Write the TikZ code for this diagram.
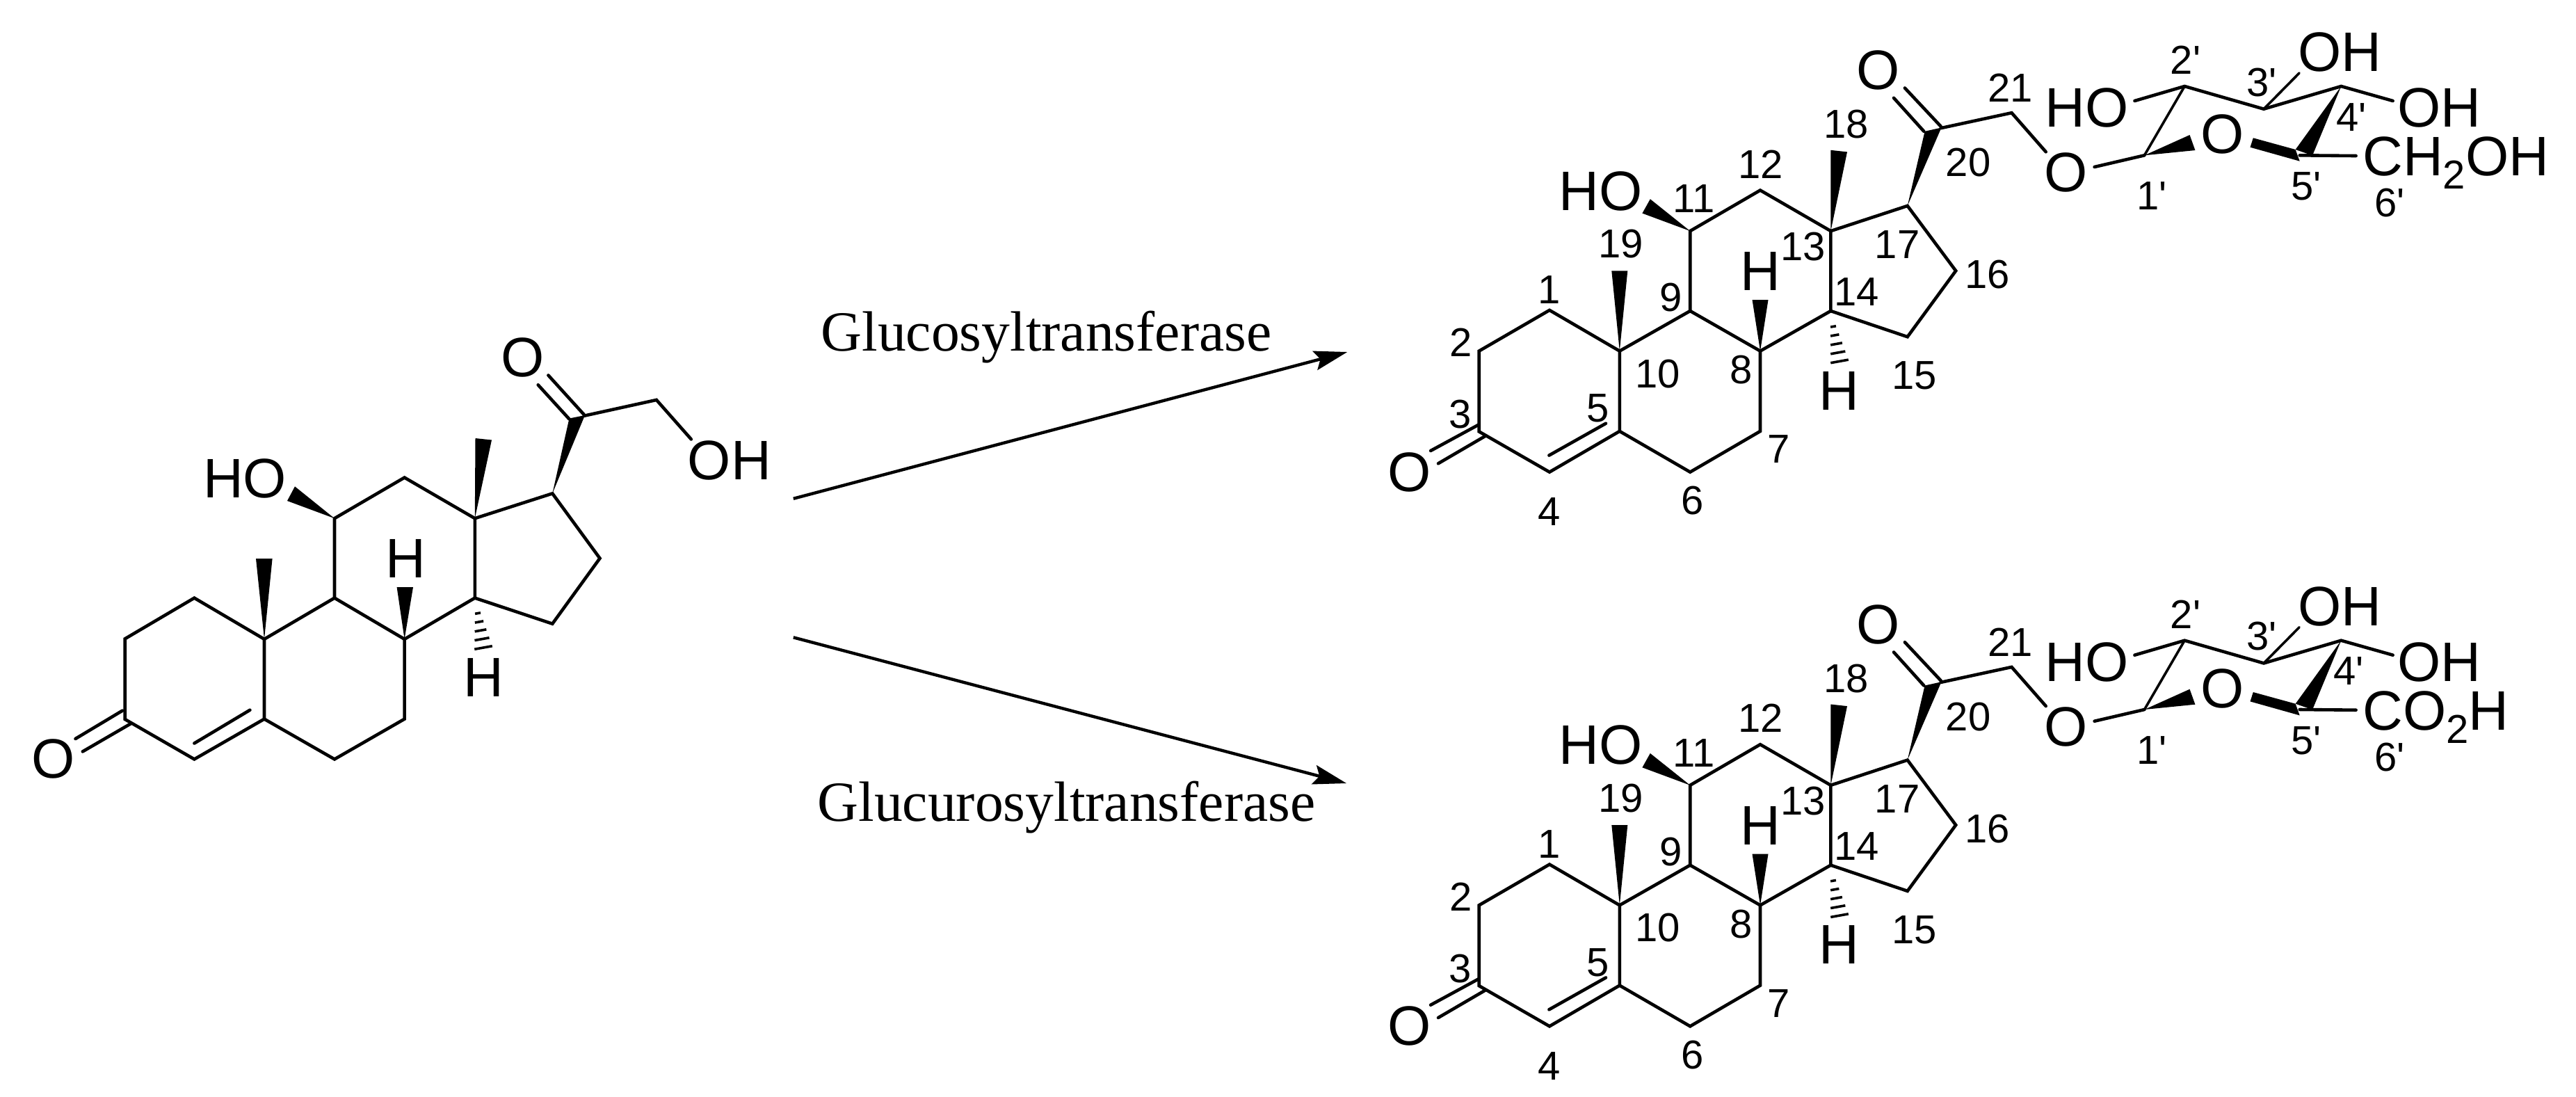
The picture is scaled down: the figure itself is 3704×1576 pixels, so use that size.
\documentclass[tikz,border=0pt]{standalone}
\usepackage{fontspec}
\usetikzlibrary{arrows.meta,calc}
\newfontfamily\chemfont{Liberation Sans}
\newfontfamily\enzfont{Liberation Serif}
\newcommand\atomsize{\fontsize{40}{42}\selectfont}
\newcommand\numsize{\fontsize{29}{31}\selectfont}
\newcommand\subtwo{\raisebox{-9.5pt}{\numsize 2}}
\tikzset{
  bond/.style={line width=2.3pt,line join=miter,line cap=round},
  thinbond/.style={line width=1.8pt,line cap=round},
  wedgebond/.style={fill=black,draw=none},
  hashline/.style={line width=1.8pt},
  atomlabel/.style={font=\chemfont\atomsize,inner sep=0pt,text=black},
  numlabel/.style={font=\chemfont\numsize,inner sep=0pt,text=black},
  enzyme/.style={font=\enzfont\fontsize{40.8}{42}\selectfont,inner sep=0pt,anchor=base west},
  reaction/.style={line width=2.2pt,-{Stealth[length=24pt,width=14pt,inset=4pt]}},
}
\newcommand\hashbond[2]{%
  \foreach \hf in {0,.25,.5,.75,1}{%
    \pgfmathsetmacro\hw{4+9*\hf}%
    \draw[hashline] ($(#1)!\hf!(#2)+(-\hw*.98,\hw*.176)$) -- ($(#1)!\hf!(#2)+(\hw*.98,-\hw*.176)$);
  }}
% glycoside product: #1 prefix, #2 shift in px, #3 substituent text, #4 x of label 4'
\newcommand\glycoside[4]{%
\begin{scope}[yshift=-#2*0.5pt]
\coordinate (#1c1) at (2228,445.9);
\coordinate (#1c2) at (2126.7,504.6);
\coordinate (#1c3) at (2126.7,620.4);
\coordinate (#1c4) at (2228,678.6);
\coordinate (#1c5) at (2328.8,619.9);
\coordinate (#1c6) at (2430.2,678.6);
\coordinate (#1c7) at (2531,619.9);
\coordinate (#1c8) at (2531,504.6);
\coordinate (#1c9) at (2430.2,447);
\coordinate (#1c10) at (2328.8,504.6);
\coordinate (#1c11) at (2430.2,332.1);
\coordinate (#1c12) at (2531,273.5);
\coordinate (#1c13) at (2632.4,332.1);
\coordinate (#1c14) at (2632.4,447);
\coordinate (#1c15) at (2742.7,484.2);
\coordinate (#1c16) at (2812.2,389.3);
\coordinate (#1c17) at (2742.7,295.9);
\coordinate (#1c20) at (2790.6,184.2);
\coordinate (#1c21) at (2892.5,162.2);
\coordinate (#1oe) at (2941.7,218.3);
\coordinate (#1oa) at (3011.6,240);
\coordinate (#1g1) at (3083.4,223.3);
\coordinate (#1g2) at (3141.2,124);
\coordinate (#1g3) at (3255,156.7);
\coordinate (#1g4) at (3366.3,124);
\coordinate (#1g5) at (3306.7,223.3);
\coordinate (#1ho2) at (3069.4,145);
\coordinate (#1ho3) at (3306.1,105);
\coordinate (#1ho4) at (3440.6,145);
\coordinate (#1g6) at (3387.6,224);
% bonds
\draw[bond] (#1c3) -- (#1c2) -- (#1c1) -- (#1c10) -- (#1c5) -- (#1c4) -- cycle;
\draw[bond] (#1c5) -- (#1c6) -- (#1c7) -- (#1c8) -- (#1c9) -- (#1c10);
\draw[bond] (#1c9) -- (#1c11) -- (#1c12) -- (#1c13) -- (#1c14) -- (#1c8);
\draw[bond] (#1c14) -- (#1c15) -- (#1c16) -- (#1c17) -- (#1c13);
\draw[bond] (#1c20) -- (#1c21) -- (#1oe);
\draw[bond] (#1oa) -- (#1g1);
\draw[thinbond] (#1g1) -- (#1g2);
\draw[bond] (#1ho2) -- (#1g2) -- (#1g3) -- (#1g4) -- (#1ho4);
\draw[thinbond] (#1g3) -- (#1ho3);
\draw[bond] (#1g5) -- (#1g6);
% double bonds
\coordinate (#1d1a) at (2126.7,610.2); \coordinate (#1d1b) at (2057.1,648);
\coordinate (#1d2a) at (2136.2,626.5); \coordinate (#1d2b) at (2068,666.3);
\coordinate (#1d3a) at (2309,608.7);   \coordinate (#1d3b) at (2227.4,654.6);
\coordinate (#1d4a) at (2790.6,181.6); \coordinate (#1d4b) at (2738.9,126.5);
\coordinate (#1d5a) at (2766.3,188.8); \coordinate (#1d5b) at (2723,140.8);
\draw[bond] (#1d1a) -- (#1d1b);
\draw[bond] (#1d2a) -- (#1d2b);
\draw[bond] (#1d3a) -- (#1d3b);
\draw[bond] (#1d4a) -- (#1d4b);
\draw[bond] (#1d5a) -- (#1d5b);
% wedges
\fill[wedgebond] (#1c11) -- (2372.8,286.2) -- (2361.4,306.6) -- cycle;
\fill[wedgebond] (#1c10) -- (2317.3,389.3) -- (2340.3,389.3) -- cycle;
\fill[wedgebond] (#1c8) -- (2519.5,431) -- (2542.5,431) -- cycle;
\fill[wedgebond] (#1c13) -- (2632.4,215.8) -- (2656,218.4) -- cycle;
\fill[wedgebond] (#1c17) -- (2767.6,188.8) -- (2791.5,183.5) -- cycle;
\fill[wedgebond] (#1g1) -- (3148.5,194) -- (3156.4,216) -- cycle;
\fill[wedgebond] (3239.8,198.3) -- (3300.6,215) -- (3306.7,231.7) -- (3235.5,211.7) -- cycle;
\fill[wedgebond] (#1g4) -- (3300.6,215) -- (3325,223.5) -- cycle;
\coordinate (#1h0) at (2636,469.4);
\coordinate (#1h1) at (2645,519.4);
\hashbond{#1h0}{#1h1}
% atoms
\node[atomlabel] (#1O3) at (2026.5,678.6) {O};
\node[atomlabel] (#1HO11) at (2301.4,274.5) {HO};
\node[atomlabel] (#1H8) at (2531.6,390.3) {H};
\node[atomlabel] (#1H14) at (2643.9,561.7) {H};
\node[atomlabel] (#1O20) at (2700.6,101) {O};
\node[atomlabel] (#1Oe) at (2970.2,248.3) {O};
\node[atomlabel] (#1HO2) at (3000.7,155) {HO};
\node[atomlabel] (#1OH3) at (3364.5,75) {OH};
\node[atomlabel] (#1OH4) at (3507.5,155) {OH};
\node[atomlabel] (#1Or) at (3195.4,193.3) {O};
\node[atomlabel,anchor=base west] (#1sub) at (3397,252.4) {#3};
% numbers
\node[numlabel] (#1n1) at (2228,417) {1};
\node[numlabel] (#1n2) at (2101,492.3) {2};
\node[numlabel] (#1n3) at (2099.9,596) {3};
\node[numlabel] (#1n4) at (2227.4,736) {4};
\node[numlabel] (#1n5) at (2298,586.7) {5};
\node[numlabel] (#1n6) at (2433.4,719.4) {6};
\node[numlabel] (#1n7) at (2557.8,645.4) {7};
\node[numlabel] (#1n8) at (2503.6,532) {8};
\node[numlabel] (#1n9) at (2402.8,427.6) {9};
\node[numlabel] (#1n10) at (2383.7,537.2) {10};
\node[numlabel] (#1n11) at (2436,286) {11};
\node[numlabel] (#1n12) at (2531.6,236) {12};
\node[numlabel] (#1n13) at (2592.9,354.6) {13};
\node[numlabel] (#1n14) at (2669.4,420) {14};
\node[numlabel] (#1n15) at (2752.3,539.8) {15};
\node[numlabel] (#1n16) at (2857.5,394.4) {16};
\node[numlabel] (#1n17) at (2728,352) {17};
\node[numlabel] (#1n18) at (2654.7,179) {18};
\node[numlabel] (#1n19) at (2330.7,351) {19};
\node[numlabel] (#1n20) at (2830,233.7) {20};
\node[numlabel] (#1n21) at (2890.7,126.5) {21};
\node[numlabel] (#1p1) at (3093.8,281.7) {1'};
\node[numlabel] (#1p2) at (3142.4,86.7) {2'};
\node[numlabel] (#1p3) at (3252,118.3) {3'};
\node[numlabel] (#1p4) at (#4,168.3) {4'};
\node[numlabel] (#1p5) at (3315.8,268.3) {5'};
\node[numlabel] (#1p6) at (3436.3,291.7) {6'};
\end{scope}}
\begin{document}
\begin{tikzpicture}[x=0.5pt,y=-0.5pt]
\useasboundingbox[fill=white] (0,0) rectangle (3704,1576);
% substrate
\coordinate (c1) at (279.4,859.6);
\coordinate (c2) at (179.7,918.3);
\coordinate (c3) at (179.7,1034);
\coordinate (c4) at (279.4,1091.4);
\coordinate (c5) at (380,1033.6);
\coordinate (c6) at (481,1091.4);
\coordinate (c7) at (581.6,1033.6);
\coordinate (c8) at (581.6,918.8);
\coordinate (c9) at (481,859.6);
\coordinate (c10) at (380,918.8);
\coordinate (c11) at (481,745.2);
\coordinate (c12) at (581.6,686.5);
\coordinate (c13) at (682.8,745.2);
\coordinate (c14) at (682.8,859.6);
\coordinate (c15) at (794.3,896.7);
\coordinate (c16) at (862.5,802.6);
\coordinate (c17) at (794.3,709.4);
\coordinate (c20) at (839.7,597.8);
\coordinate (c21) at (943.9,574.9);
\coordinate (oe) at (993.8,631.4);
\draw[bond] (c3) -- (c2) -- (c1) -- (c10) -- (c5) -- (c4) -- cycle;
\draw[bond] (c5) -- (c6) -- (c7) -- (c8) -- (c9) -- (c10);
\draw[bond] (c9) -- (c11) -- (c12) -- (c13) -- (c14) -- (c8);
\draw[bond] (c14) -- (c15) -- (c16) -- (c17) -- (c13);
\draw[bond] (c20) -- (c21) -- (oe);
\coordinate (d1a) at (176,1021.6);   \coordinate (d1b) at (108.5,1062);
\coordinate (d2a) at (188.5,1040);   \coordinate (d2b) at (118.8,1080.4);
\coordinate (d3a) at (359.4,1020.7); \coordinate (d3b) at (279.4,1068.5);
\coordinate (d4a) at (839.7,596);    \coordinate (d4b) at (788.4,539.5);
\coordinate (d5a) at (818.5,602.4);  \coordinate (d5b) at (773.7,553.3);
\draw[bond] (d1a) -- (d1b);
\draw[bond] (d2a) -- (d2b);
\draw[bond] (d3a) -- (d3b);
\draw[bond] (d4a) -- (d4b);
\draw[bond] (d5a) -- (d5b);
\fill[wedgebond] (c11) -- (424,699.3) -- (413,720) -- cycle;
\fill[wedgebond] (c10) -- (368,803) -- (391.6,803) -- cycle;
\fill[wedgebond] (c8) -- (570.6,844) -- (594,844) -- cycle;
\fill[wedgebond] (c13) -- (683.5,630) -- (707,632.5) -- cycle;
\fill[wedgebond] (c17) -- (818.5,601.5) -- (841,597) -- cycle;
\coordinate (h0) at (687,881.6);
\coordinate (h1) at (695,931);
\hashbond{h0}{h1}
\node[atomlabel] (O3) at (77,1090.5) {O};
\node[atomlabel] (HO11) at (352,688) {HO};
\node[atomlabel] (H8) at (583,802.6) {H};
\node[atomlabel] (H14) at (695,974) {H};
\node[atomlabel] (O20) at (751.7,514) {O};
\node[atomlabel] (OH21) at (1048.8,662) {OH};
% products
\glycoside{a}{0}{CH\subtwo OH}{3381}
\glycoside{b}{796.7}{CO\subtwo H}{3377}
% reactions
\coordinate (r1s) at (1140.8,716.8);
\coordinate (r1e) at (1937.3,506);
\coordinate (r2s) at (1140.8,916.3);
\coordinate (r2e) at (1936,1126);
\draw[reaction] (r1s) -- (r1e);
\draw[reaction] (r2s) -- (r2e);
\node[enzyme] (enz1) at (1180,504.6) {Glucosyltransferase};
\node[enzyme] (enz2) at (1175,1180.6) {Glucurosyltransferase};
\end{tikzpicture}
\end{document}
